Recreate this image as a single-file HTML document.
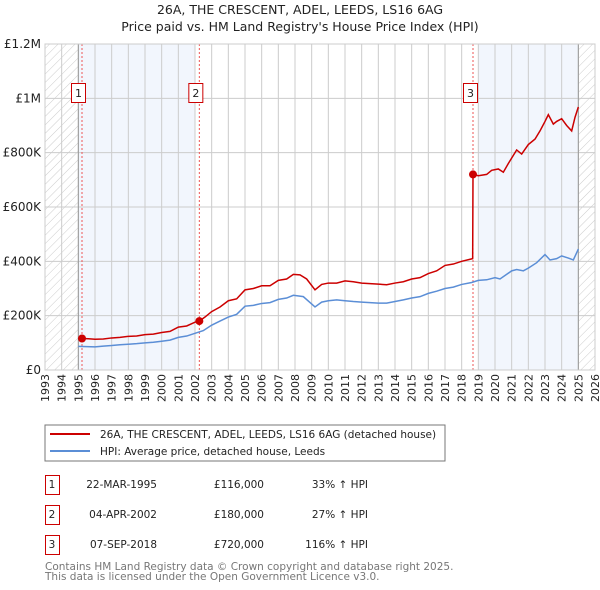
<!DOCTYPE html>
<html><head><meta charset="utf-8"><style>
body{margin:0;background:#fff;font-family:"Liberation Sans","DejaVu Sans",sans-serif;}
svg{display:block}
</style></head><body>
<svg id="c" width="600" height="590" xmlns="http://www.w3.org/2000/svg" font-family="DejaVu Sans, Liberation Sans, sans-serif">
<defs><pattern id="h" width="6" height="6" patternUnits="userSpaceOnUse" patternTransform="rotate(45)"><line x1="0" y1="0" x2="0" y2="6" stroke="#ccc" stroke-width="1"/></pattern></defs>
<text x="300" y="14" text-anchor="middle" font-size="12.5" fill="#222">26A, THE CRESCENT, ADEL, LEEDS, LS16 6AG</text>
<text x="300" y="31" text-anchor="middle" font-size="12.5" fill="#222">Price paid vs. HM Land Registry's House Price Index (HPI)</text>
<g id="plot"></g>
<rect x="45" y="425" width="400" height="36" fill="#fff" stroke="#777"/>
<line x1="50" y1="434" x2="90" y2="434" stroke="#cc0000" stroke-width="2"/>
<text x="100" y="438" font-size="10.5" fill="#222">26A, THE CRESCENT, ADEL, LEEDS, LS16 6AG (detached house)</text>
<line x1="50" y1="451" x2="90" y2="451" stroke="#5b8ed6" stroke-width="2"/>
<text x="100" y="455" font-size="10.5" fill="#222">HPI: Average price, detached house, Leeds</text>
<g font-size="10.5" fill="#222">
<rect x="45.5" y="475.5" width="14" height="19" fill="none" stroke="#cc0000"/><text x="52" y="488" text-anchor="middle">1</text>
<text x="157" y="488" text-anchor="end">22-MAR-1995</text><text x="264" y="488" text-anchor="end">£116,000</text><text x="368" y="488" text-anchor="end">33% ↑ HPI</text>
<rect x="45.5" y="505.5" width="14" height="19" fill="none" stroke="#cc0000"/><text x="52" y="518" text-anchor="middle">2</text>
<text x="157" y="518" text-anchor="end">04-APR-2002</text><text x="264" y="518" text-anchor="end">£180,000</text><text x="368" y="518" text-anchor="end">27% ↑ HPI</text>
<rect x="45.5" y="535.5" width="14" height="19" fill="none" stroke="#cc0000"/><text x="52" y="548" text-anchor="middle">3</text>
<text x="157" y="548" text-anchor="end">07-SEP-2018</text><text x="264" y="548" text-anchor="end">£720,000</text><text x="368" y="548" text-anchor="end">116% ↑ HPI</text>
</g>
<text x="45" y="570" font-size="10.5" fill="#777">Contains HM Land Registry data © Crown copyright and database right 2025.</text>
<text x="45" y="580" font-size="10.5" fill="#777">This data is licensed under the Open Government Licence v3.0.</text>
</svg>
<script>
const yearTicks=[1993,1994,1995,1996,1997,1998,1999,2000,2001,2002,2003,2004,2005,2006,2007,2008,2009,2010,2011,2012,2013,2014,2015,2016,2017,2018,2019,2020,2021,2022,2023,2024,2025,2026];
const priceTicks=[0,200000,400000,600000,800000,1000000,1200000];
const priceLabels=["£0","£200K","£400K","£600K","£800K","£1M","£1.2M"];
const redT=[1995.22,1995.6,1996,1996.5,1997,1997.5,1998,1998.5,1999,1999.5,2000,2000.5,2001,2001.5,2002,2002.26,2002.6,2003,2003.5,2004,2004.5,2005,2005.5,2006,2006.5,2007,2007.5,2007.9,2008.3,2008.7,2009.2,2009.6,2010,2010.5,2011,2011.5,2012,2012.5,2013,2013.5,2014,2014.5,2015,2015.5,2016,2016.5,2017,2017.5,2018,2018.66,2018.68,2019,2019.5,2019.8,2020.2,2020.5,2020.8,2021.1,2021.3,2021.6,2022,2022.4,2022.7,2023,2023.2,2023.5,2023.7,2024,2024.3,2024.6,2024.8,2025];
const redV=[116,115,113,114,118,120,124,125,130,132,138,142,158,162,176,180,195,215,232,255,262,295,300,310,310,330,335,352,350,335,295,315,320,320,328,325,320,318,316,314,320,325,335,340,355,365,385,390,400,410,720,715,720,735,740,728,760,790,810,795,830,850,880,915,940,905,915,925,900,880,930,968];
const blueT=[1995.0,1995.5,1996,1996.5,1997,1997.5,1998,1998.5,1999,1999.5,2000,2000.5,2001,2001.5,2002,2002.5,2003,2003.5,2004,2004.5,2005,2005.5,2006,2006.5,2007,2007.5,2007.9,2008.5,2009.2,2009.6,2010,2010.5,2011,2011.5,2012,2012.5,2013,2013.5,2014,2014.5,2015,2015.5,2016,2016.5,2017,2017.5,2018,2018.6,2019,2019.5,2020,2020.3,2021,2021.3,2021.7,2022,2022.5,2023,2023.3,2023.7,2024,2024.4,2024.7,2025];
const blueV=[87,86,85,88,90,93,95,97,100,102,106,110,120,125,135,145,165,180,195,205,235,238,245,248,260,265,275,270,232,250,255,258,255,252,250,248,246,246,252,258,265,270,282,290,300,305,315,322,330,332,340,335,365,370,365,375,395,425,405,410,420,412,405,445];
const sales=[[1995.22,116],[2002.26,180],[2018.68,720]];
const ns="http://www.w3.org/2000/svg";
const X0=45,X1=595,Y0=370,Y1=44;
const xs=t=>X0+(t-1993)/33*(X1-X0);
const ys=v=>Y0-v/1200000*(Y0-Y1);
const g=document.getElementById('plot');
function mk(tag,a,p){const e=document.createElementNS(ns,tag);for(const k in a)e.setAttribute(k,a[k]);(p||g).appendChild(e);return e;}
let e;
e=mk('rect',{x:xs(1995),y:Y1,width:xs(2002)-xs(1995),height:Y0-Y1,fill:'#f2f6fd'});


e=mk('rect',{x:xs(2019),y:Y1,width:xs(2025)-xs(2019),height:Y0-Y1,fill:'#f2f6fd'});


e=mk('rect',{x:X0,y:Y1,width:xs(1995)-X0,height:Y0-Y1,fill:'url(#h)'});


e=mk('rect',{x:xs(2025),y:Y1,width:X1-xs(2025),height:Y0-Y1,fill:'url(#h)'});


yearTicks.forEach(y=>{
 e=mk('line',{x1:xs(y),x2:xs(y),y1:Y1,y2:Y0,stroke:'#ccc','stroke-width':1});
 
 
 e=mk('text',{x:xs(y)+4,y:Y0+4,'font-size':11,fill:'#222','text-anchor':'end',transform:`rotate(-90 ${xs(y)+4} ${Y0+4})`});
 e.textContent=y;
 
 
});
priceTicks.forEach((v,i)=>{
 e=mk('line',{x1:X0,x2:X1,y1:ys(v),y2:ys(v),stroke:'#ccc','stroke-width':1});
 
 
 e=mk('text',{x:X0-4,y:ys(v)+4,'font-size':12,fill:'#222','text-anchor':'end'});
 e.textContent=priceLabels[i];
 
 
});
[1995,2025].forEach(y=>{e=mk('line',{x1:xs(y),x2:xs(y),y1:Y1,y2:Y0,stroke:'#999','stroke-width':1});
 
 });
sales.forEach((s,i)=>{
 e=mk('line',{x1:xs(s[0]),x2:xs(s[0]),y1:Y1,y2:Y0,stroke:'#e55','stroke-width':1,'stroke-dasharray':'2,2'});
 
 
 const bx=xs(s[0])-(i==2?9:10);
 e=mk('rect',{x:bx-0.5,y:83.5,width:14,height:19,fill:'#fff',stroke:'#cc0000'});
 
 
 e=mk('text',{x:bx+6.5,y:97,'font-size':11,fill:'#222','text-anchor':'middle'});
 e.textContent=i+1;
 
 
});
e=mk('polyline',{points:blueT.map((t,i)=>xs(t)+','+ys(blueV[i]*1000)).join(' '),fill:'none',stroke:'#5b8ed6','stroke-width':1.5});


e=mk('polyline',{points:redT.map((t,i)=>xs(t)+','+ys(redV[i]*1000)).join(' '),fill:'none',stroke:'#cc0000','stroke-width':1.5});


sales.forEach(s=>{e=mk('circle',{cx:xs(s[0]),cy:ys(s[1]*1000),r:4,fill:'#cc0000'});
 
 });
e=mk('rect',{x:X0,y:Y1,width:X1-X0,height:Y0-Y1,fill:'none',stroke:'#ccc'});


</script>
</body></html>
